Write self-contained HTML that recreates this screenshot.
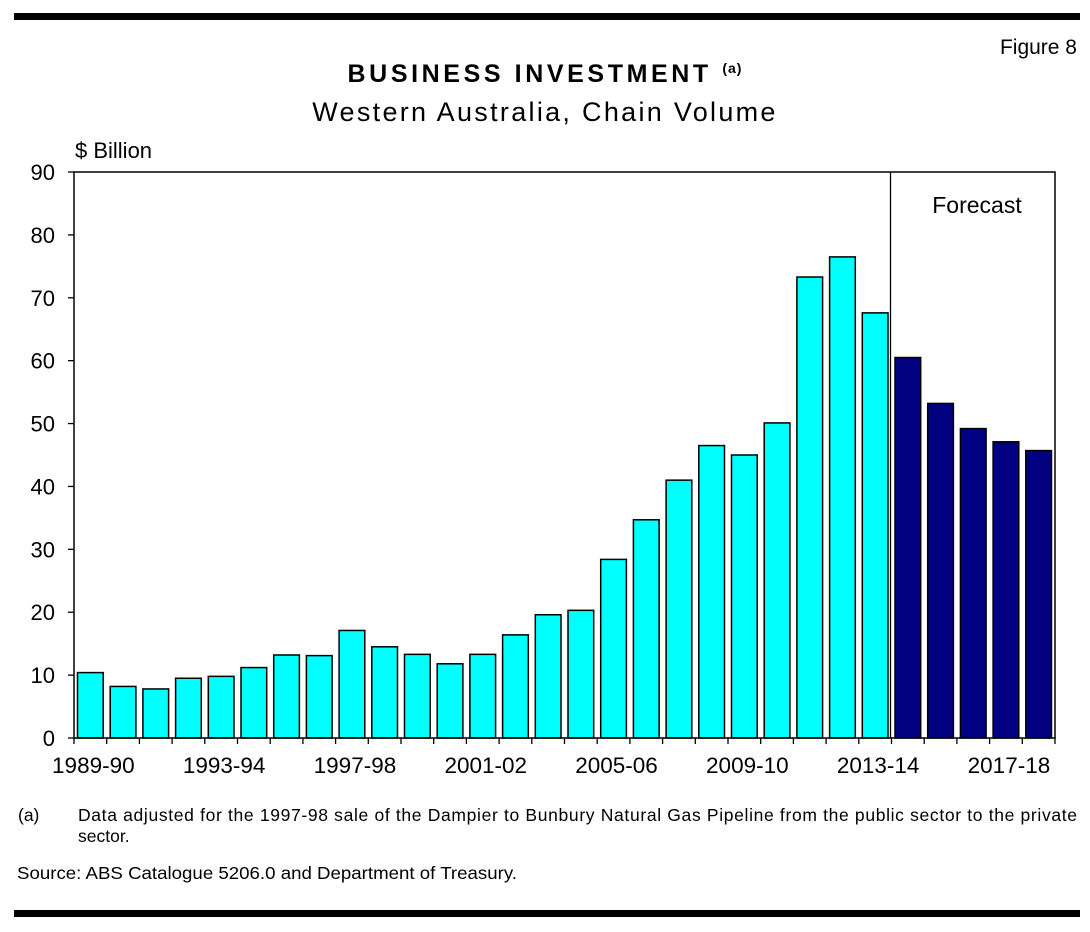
<!DOCTYPE html>
<html><head><meta charset="utf-8"><style>
body{margin:0;background:#fff;width:1090px;height:927px;overflow:hidden;font-family:"Liberation Sans",Arial,sans-serif}
</style></head><body>
<svg width="1090" height="927" xmlns="http://www.w3.org/2000/svg" font-family="Liberation Sans, Arial, sans-serif">
<rect x="14" y="13" width="1066" height="7" fill="#000"/>
<rect x="14" y="910" width="1066" height="7" fill="#000"/>
<text x="1077" y="54" font-size="21" text-anchor="end">Figure 8</text>
<text x="545" y="82" font-size="25" font-weight="bold" text-anchor="middle" letter-spacing="3.6">BUSINESS INVESTMENT <tspan font-size="14" dy="-9" letter-spacing="1">(a)</tspan></text>
<text x="545" y="121" font-size="27" text-anchor="middle" letter-spacing="2.3">Western Australia, Chain Volume</text>
<text x="75" y="158" font-size="22">$ Billion</text>
<g id="chart"></g>
<text x="977" y="213" font-size="23" text-anchor="middle">Forecast</text>
<text x="18" y="821" font-size="17.5">(a)</text>
<text x="78" y="821" font-size="17.5" textLength="999" lengthAdjust="spacing">Data adjusted for the 1997-98 sale of the Dampier to Bunbury Natural Gas Pipeline from the public sector to the private</text>
<text x="78" y="842" font-size="17.5">sector.</text>
<text x="17" y="879" font-size="17.5" textLength="500" lengthAdjust="spacingAndGlyphs">Source: ABS Catalogue 5206.0 and Department of Treasury.</text>
</svg>
<script>
const categories = ["1989-90","1990-91","1991-92","1992-93","1993-94","1994-95","1995-96","1996-97","1997-98","1998-99","1999-00","2000-01","2001-02","2002-03","2003-04","2004-05","2005-06","2006-07","2007-08","2008-09","2009-10","2010-11","2011-12","2012-13","2013-14","2014-15","2015-16","2016-17","2017-18","2018-19"];
const values = [10.4,8.2,7.8,9.5,9.8,11.2,13.2,13.1,17.1,14.5,13.3,11.8,13.3,16.4,19.6,20.3,28.4,34.7,41.0,46.5,45.0,50.1,73.3,76.5,67.6,60.5,53.2,49.2,47.1,45.7];
const forecastStart = 25;
const yTicks = [0,10,20,30,40,50,60,70,80,90];
const xLabelIdx = [0,4,8,12,16,20,24,28];
const NS="http://www.w3.org/2000/svg";
const g=document.getElementById('chart');
const X0=74,X1=1055,Y0=738,Y1=172,YMAX=90;
const step=(X1-X0)/categories.length;
const x=i=>X0+i*step;
const y=v=>Y0-(v/YMAX)*(Y0-Y1);
function mk(t,a){const e=document.createElementNS(NS,t);for(const k in a)e.setAttribute(k,a[k]);g.appendChild(e);return e;}
values.forEach((v,i)=>{
  const r=mk('rect',{x:x(i)+3.5,y:y(v),width:step-7,height:Y0-y(v),fill:i>=forecastStart?'#000080':'#00ffff',stroke:'#000','stroke-width':1.5});
  
  
});
const ax=mk('rect',{x:X0,y:Y1,width:X1-X0,height:Y0-Y1,fill:'none',stroke:'#000','stroke-width':1.5});


const fl=mk('line',{x1:x(forecastStart)-1,x2:x(forecastStart)-1,y1:Y1,y2:Y0,stroke:'#000','stroke-width':1.3});


yTicks.forEach(t=>{
  const l=mk('line',{x1:X0-6,x2:X0,y1:y(t),y2:y(t),stroke:'#000','stroke-width':1.3});
  
  
  const tx=mk('text',{x:X0-19,y:y(t)+8,'font-size':22,'text-anchor':'end'});
  tx.textContent=t;
  
  
});
for(let i=0;i<=categories.length;i++){
  const l=mk('line',{x1:x(i),x2:x(i),y1:Y0,y2:Y0+6,stroke:'#000','stroke-width':1.3});
  
  
}
xLabelIdx.forEach(i=>{
  const tx=mk('text',{x:x(i)+step/2+3,y:Y0+35,'font-size':22.5,'text-anchor':'middle'});
  tx.textContent=categories[i];
  
  
});
</script>
</body></html>
